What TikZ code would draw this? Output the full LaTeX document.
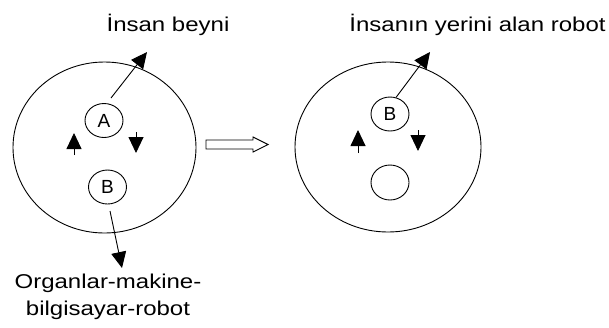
\documentclass[tikz,border=0pt]{standalone}
\usepackage{fontspec}
\setmainfont{Liberation Sans}
\newfontfamily\labelfont[FakeStretch=1.2]{Liberation Sans}
\usetikzlibrary{arrows.meta, positioning, shapes.geometric}

\begin{document}
\begin{tikzpicture}[x=1pt, y=-1pt, line width=0.9pt,
    cell/.style={ellipse, draw, inner sep=0pt},
    part/.style={ellipse, draw, inner sep=0pt, minimum width=38pt, minimum height=34pt, font=\fontsize{19}{19}\selectfont},
    flow/.style={arrows={-Triangle[width=15pt, length=16pt]}},
    caption/.style={inner sep=0pt, font=\labelfont\fontsize{20}{27}\selectfont}]
    \useasboundingbox (0,0) rectangle (609,327);

    % left: human
    \node[cell, minimum width=183pt, minimum height=171pt] (cellL) at (104.5,147.5) {};
    \node[part] (a) at (104,120.5) {A};
    \node[part] (b) at (107.5,187) {B};
    \node[caption, anchor=base] (brain) at (168,31) {İnsan beyni};
    \node[caption, anchor=north, align=center] (organs) at (108,274) {Organlar-makine-\\bilgisayar-robot};

    \coordinate (aout) at (147,52);
    \coordinate (bout) at (122,268);
    \coordinate (upL0) at (74,155);
    \coordinate (upL1) at (74,133);
    \coordinate (dnL0) at (136,132);
    \coordinate (dnL1) at (136,153);

    \draw[flow] (111,98) -- (aout);
    \draw[flow] (110,211) -- (bout);
    \draw[flow] (upL0) -- (upL1);
    \draw[flow] (dnL0) -- (dnL1);

    % hollow arrow between the two
    \draw (206,140) -- (253,140) -- (253,137) -- (268,144.5) -- (253,152) -- (253,149) -- (206,149) -- cycle;

    % right: robot
    \node[cell, minimum width=186pt, minimum height=170pt] (cellR) at (388,147) {};
    \node[part] (rb) at (390,114) {B};
    \node[part, minimum height=35pt] (empty) at (390,182.5) {};
    \node[caption, anchor=base] (robot) at (477.5,31) {İnsanın yerini alan robot};

    \coordinate (rbout) at (430,52);
    \coordinate (upR0) at (358,153);
    \coordinate (upR1) at (358,130);
    \coordinate (dnR0) at (418,130);
    \coordinate (dnR1) at (418,151);

    \draw[flow] (rb.70) -- (rbout);
    \draw[flow] (upR0) -- (upR1);
    \draw[flow] (dnR0) -- (dnR1);
\end{tikzpicture}
\end{document}
